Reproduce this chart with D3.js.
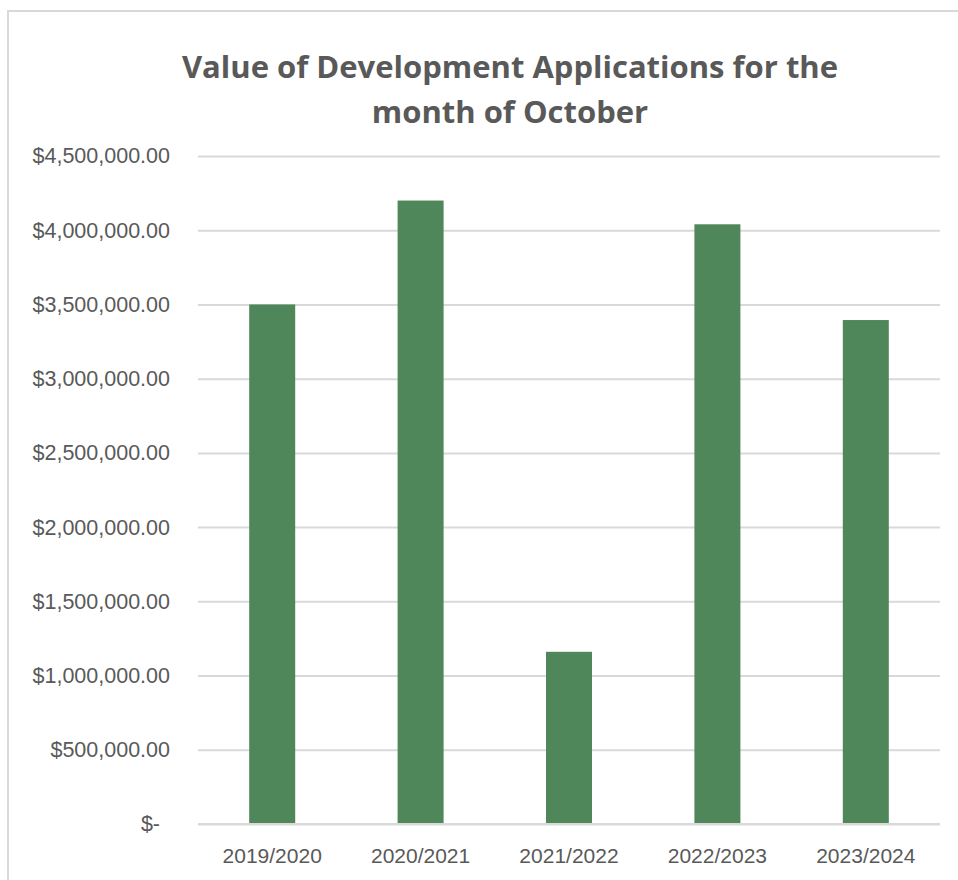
<!DOCTYPE html>
<html>
<head>
<meta charset="utf-8">
<script src="https://cdn.jsdelivr.net/npm/d3@7"></script>
<style>
  html, body { margin: 0; padding: 0; background: #ffffff; }
  svg { display: block; }
  text { font-family: "Liberation Sans", Arial, sans-serif; }
  .title { font-family: "Open Sans", "Liberation Sans", sans-serif; }
</style>
</head>
<body>
<svg id="chart" width="958" height="880"></svg>
<script>
// Financial years shown on the category axis
const categories = ["2019/2020", "2020/2021", "2021/2022", "2022/2023", "2023/2024"];
// Total value of development applications lodged in October, by year
const values = [3500000, 4200000, 1160000, 4040000, 3395000];
// Value axis ticks
const yTicks = [0, 500000, 1000000, 1500000, 2000000, 2500000, 3000000, 3500000, 4000000, 4500000];
const titleLines = ["Value of Development Applications for the", "month of October"];

const svg = d3.select("#chart");
const W = 958, H = 880;
const plot = { left: 198, right: 940, top: 156, bottom: 824 };

const textColor = "#595959";
const gridColor = "#d9d9d9";
const barColor = "#4f875a";

// chart-area frame (continues past the right and bottom edges)
svg.append("path")
  .attr("d", `M8,${H + 5} L8,11 L${W + 5},11`)
  .attr("fill", "none")
  .attr("stroke", gridColor)
  .attr("stroke-width", 2);

const x = d3.scaleBand()
  .domain(categories)
  .range([plot.left, plot.right])
  .paddingInner(0.69)
  .paddingOuter(0.345);

const y = d3.scaleLinear()
  .domain([0, d3.max(yTicks)])
  .range([plot.bottom, plot.top]);

const money = d3.format("$,.2f");
const fmt = v => v === 0 ? "$-" : money(v);

// horizontal gridlines
const grid = svg.append("g")
  .attr("transform", `translate(${plot.left},0)`)
  .call(d3.axisLeft(y).tickValues(yTicks).tickSize(-(plot.right - plot.left)).tickFormat(""));
grid.select(".domain").remove();
grid.selectAll(".tick line").attr("stroke", gridColor).attr("stroke-width", 2);

// value axis labels
const yAxis = svg.append("g")
  .attr("transform", `translate(170,0)`)
  .call(d3.axisLeft(y).tickValues(yTicks).tickSize(0).tickPadding(0).tickFormat(fmt));
yAxis.select(".domain").remove();
yAxis.selectAll(".tick text")
  .attr("fill", textColor)
  .style("font-size", "21.5px")
  .attr("dx", d => d === 0 ? -10 : 0);

// bars
svg.append("g").selectAll("rect")
  .data(values)
  .join("rect")
  .attr("x", (d, i) => x(categories[i]))
  .attr("width", x.bandwidth())
  .attr("y", d => y(d))
  .attr("height", d => y(0) - y(d))
  .attr("fill", barColor);

// zero line drawn over the bar bases
svg.append("line")
  .attr("x1", plot.left).attr("x2", plot.right)
  .attr("y1", y(0)).attr("y2", y(0))
  .attr("stroke", gridColor).attr("stroke-width", 2);

// category axis labels
const xAxis = svg.append("g")
  .attr("transform", `translate(0,${plot.bottom})`)
  .call(d3.axisBottom(x).tickSize(0).tickPadding(0));
xAxis.select(".domain").remove();
xAxis.selectAll(".tick text")
  .attr("fill", textColor)
  .style("font-size", "21px")
  .attr("dy", 0)
  .attr("y", 39);

// title
svg.append("g").selectAll("text")
  .data(titleLines)
  .join("text")
  .attr("class", "title")
  .attr("x", 510)
  .attr("y", (d, i) => 78 + i * 45)
  .attr("text-anchor", "middle")
  .attr("fill", textColor)
  .style("font-size", "31px")
  .style("font-weight", "bold")
  .text(d => d);
</script>
</body>
</html>
